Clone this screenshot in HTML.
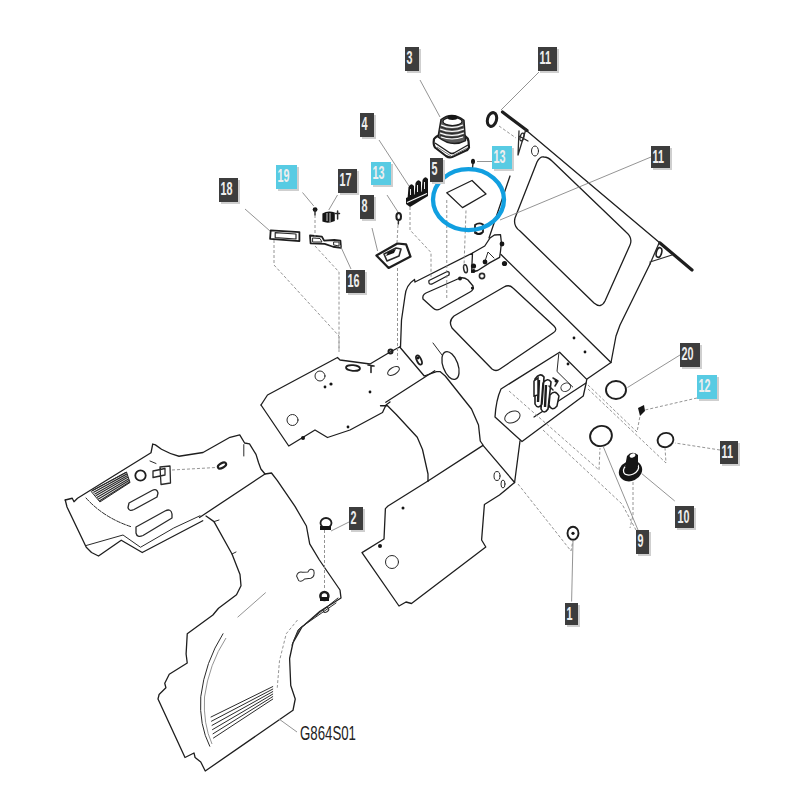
<!DOCTYPE html>
<html><head><meta charset="utf-8">
<style>
html,body{margin:0;padding:0;background:#fff;width:800px;height:800px;overflow:hidden}
svg{display:block}
.o{fill:none;stroke:#1e1e1e;stroke-width:1.3;stroke-linejoin:round;stroke-linecap:round}
.t{fill:none;stroke:#2a2a2a;stroke-width:1.0;stroke-linejoin:round;stroke-linecap:round}
.l{fill:none;stroke:#888;stroke-width:0.9}
.d{fill:none;stroke:#888;stroke-width:0.9;stroke-dasharray:3 2}
.k{fill:#151515;stroke:none}
.lab{font-family:"Liberation Sans",sans-serif;font-size:36px;font-weight:bold;fill:#eeeeee}
</style></head><body>
<svg width="800" height="800" viewBox="0 0 800 800">
<!-- ===== Dashboard frame panel ===== -->
<g>
  <path class="o" d="M527,131 L660,243" />
  <path class="o" style="stroke-width:3.2" d="M502.5,112 L527,130.5" />
  <path class="o" style="stroke-width:3.2" d="M660,243 L692,270" />
  <path class="t" style="stroke-width:1.3" d="M526,129 L518,155 L519,131 M519,136 L528,141" /><ellipse class="t" style="stroke-width:1.3" cx="522" cy="137" rx="1.8" ry="4" transform="rotate(15 522 137)"/>
  <path class="t" style="stroke-width:1.3" d="M659.5,242 L650,264 M650,262 L672,255" /><ellipse class="o" style="stroke-width:1.6" cx="659" cy="252.5" rx="2.6" ry="5" transform="rotate(15 659 252.5)"/>
  <ellipse class="o" style="stroke-width:3" cx="492" cy="119.5" rx="4.5" ry="7" transform="rotate(15 492 119.5)"/>
  <ellipse class="t" cx="535" cy="151" rx="3.5" ry="5" />
  <path class="o" d="M544,157 Q540,156 537,162 L515,218 Q513,226 520,231 L594,303 Q601,309 605,301 L630,245 Q633,238 626,232 L552,161 Q548,157 544,157 Z" />
  <path class="o" d="M650,264 L620,325 L616,336 L611,362.5" />
  <path class="o" d="M510,176 L489,238" />
  <path class="o" d="M501,254.5 L611,362.5 L587,379" />
</g>
<!-- ===== Upper floor plate ===== -->
<g>
  <path class="o" d="M401.5,320 L400.5,347 M414.5,279.5 Q406,285 405,296 L401.5,320 M414.5,279.5 L415,282 L472.5,253 L484.75,246 L490,238 L494.4,235 L500.5,234.6 L501.4,242.5 L500.5,251.25 L499.6,257.4 L490,262.6 L477.75,270.5 L471.6,272.25 L472.5,253" />
  <path class="t" d="M484.75,262 L488,252 L494,258" />
  <circle class="k" cx="473.5" cy="266" r="2.6"/><circle class="k" cx="473.5" cy="271" r="2"/><circle class="k" cx="485" cy="262" r="2.4"/><circle class="k" cx="502" cy="244" r="2.4"/><circle class="k" cx="504.5" cy="263.5" r="2.6"/><circle class="k" cx="460" cy="278.4" r="2"/><circle class="k" cx="472.5" cy="288" r="1.6"/>
  <circle class="t" style="stroke-width:1.6" cx="482" cy="276" r="2.6"/>
  <ellipse class="t" style="stroke-width:1.5" cx="465.5" cy="268.75" rx="1.8" ry="4" transform="rotate(-10 465.5 268.75)"/>
  <path class="o" d="M429,280.5 L446.75,271.75 Q450,271 449,275 L432,284 Q428,285 429,280.5 Z" />
  <path class="o" d="M426,293 L460,278 Q464,277 468,280 L473,286 Q474,290 470,292 L440,309 Q436,311 433,308 L423,299 Q422,295 426,293 Z" />
  <path class="o" d="M454,316 L504,287 Q509,284 513,288 L554,326 Q558,330 553,333 L500,369 Q496,372 492,369 L452,328 Q448,321 454,316 Z" />
  <ellipse class="o" cx="450.5" cy="365.5" rx="7.5" ry="14.5" transform="rotate(-20 450.5 365.5)"/>
  <path class="t" d="M433,343 L442,355" />
  <ellipse class="o" style="stroke-width:1.8" cx="419" cy="360" rx="2.2" ry="5" transform="rotate(-25 419 360)"/>
  <path class="o" d="M399.75,347 L424.25,376 L436.5,371.6 L440,371.6 L445.25,376 L471.5,409 L478.5,425 L480.25,441 L483,445" />
  <circle class="o" style="stroke-width:2" cx="390.5" cy="351.5" r="2"/><circle class="k" cx="418" cy="358" r="1.4"/><circle class="k" cx="574" cy="338" r="1.4"/><circle class="k" cx="568" cy="364" r="1.4"/><circle class="k" cx="585" cy="352" r="1.4"/>
</g>
<!-- ===== Console box ===== -->
<g>
  <path class="o" d="M501,389 L559.6,352.25 L586.75,379.4 L586,383.75 L583.25,396 L522,441.5 L495,417 Q496,400 501,389 Z" />
  <path class="o" d="M534,417 L586,383" />
  <path class="t" d="M558.75,354 L557,371.5 L572.75,387" />
  <ellipse class="t" cx="512.4" cy="417" rx="8" ry="5.5" transform="rotate(-25 512.4 417)"/>
  <ellipse class="t" cx="565.75" cy="387.25" rx="5" ry="4" transform="rotate(-25 565.75 387.25)"/>
  <path fill="#fff" stroke="#1e1e1e" stroke-width="1.6" d="M535,379 Q540,372 544,377 L542,404 Q538,410 535,404 Z M543,383 Q548,377 551,382 L548,409 Q544,415 541,409 Z" />
  <path fill="none" stroke="#1e1e1e" stroke-width="2.4" d="M539,380 L538,402 M546,385 L545,407" />
  <path fill="#fff" stroke="#1e1e1e" stroke-width="1.5" d="M550,395 Q555,389 559,396 L557,406 Q552,412 549,405 Z M534,381 L538,378 L538,395 L534,396 Z" />
  <path class="t" style="stroke-width:1.5" d="M553,378 L558,381 L555,386 M549,386 L553,390" />
  <circle class="k" cx="556" cy="381" r="1.5"/>
  
</g>
<!-- ===== Left floor plate ===== -->
<g>
  <path class="o" d="M261,405 L267.5,395 L337.5,357.5 L340,360 L370,364 L391,351.5 L399.75,347" />
  <path class="o" d="M261,405 L288.75,446 L315,430 L327.5,437.5 L350,430 L382.5,412.5 L386,405 L390,402" />
  <path class="o" d="M385.75,402.25 L434.75,370.75" />
  <circle class="t" cx="320" cy="376" r="5"/>
  <circle class="t" cx="292.5" cy="420" r="5.5"/>
  <ellipse class="o" style="stroke-width:1.8" cx="353" cy="368" rx="7" ry="2.8" transform="rotate(5 353 368)"/><path class="t" style="stroke-width:1.6" d="M368,365 L374,366 M371,365.5 L371,372.5"/>
  <ellipse class="t" cx="393.5" cy="371" rx="6.5" ry="3.5" transform="rotate(-30 393.5 371)"/>
  <circle class="k" cx="331" cy="384" r="1.6"/><circle class="k" cx="325" cy="387" r="1.4"/><circle class="k" cx="303" cy="438" r="2"/><circle class="k" cx="348" cy="427" r="1.4"/><circle class="k" cx="370" cy="392" r="1.4"/>
</g>
<!-- ===== Tunnel + lower plate ===== -->
<g>
  <path class="o" d="M380.5,405.75 L387.5,405.75 L396.25,414.5 L417.25,437.25 L422.5,449.5 L428,474 L428,481" />
  <path class="o" d="M428,481 L483,445.4 L514.6,482.5 L520,441" />
  <path class="o" d="M514.6,482.5 L499.5,495 L484.4,504.5 L481.6,540 L485.8,547 L411.5,603.5 L406,602 L399,606 L362,552.6 L384,539 L385.4,508.6 L388,506 L428,481" />
  <circle class="t" cx="392" cy="562" r="6.5"/>
  <circle class="k" cx="403" cy="508" r="1.5"/><circle class="k" cx="380" cy="546" r="2"/>
  <ellipse class="t" cx="497" cy="476" rx="3" ry="4.5"/><ellipse class="t" cx="503" cy="484" rx="2" ry="4"/>
</g>
<!-- ===== Fender (left side) ===== -->
<g>
  <path class="o" d="M65.25,500 L72.25,498.25 L74,501.75 L77.5,498.25 L151,452.75 L152.75,444 L155.4,444.9 L161.5,449.25 Q170,454 179,456.25 L203,452.5 L230,437.3 L239.75,434.9 L244.6,443 L249.5,443.8 L256,454.4 L258.5,462.5 L260.9,469 L265,474 L199.5,517.5" />
  <path class="o" d="M65.25,500 L67,507 L86.25,547.25 L91.5,552.5 L98.5,556 L121.25,540.25 L142.25,552.5 L202.75,520.75" />
  <path class="t" d="M86.25,545.5 L123,535 L140.5,547.25 L173.75,528 L200,515.75" />
  <path class="t" style="stroke-dasharray:4 1.5" d="M86,498 Q104,518 132,527" />
  <path class="t" d="M91.5,491.25 L126.5,472 L130,482.5 L100.25,501.75 Z" />
  <path class="t" style="stroke-width:1.2" d="M92.5,490.5 L126.0,472.5 M93.7,492.2 L126.6,474.1 M94.9,493.9 L127.2,475.7 M96.1,495.6 L127.8,477.3 M97.3,497.3 L128.4,478.9 M98.5,499.0 L129.0,480.5 M99.7,500.7 L129.6,482.1" />
  <path class="t" style="stroke-width:1.3" d="M129,503 L152,490.5 Q157,488 158,493 L157,497 L134,509.5 Q129,512 128,507.5 Z" />
  <path class="t" style="stroke-width:1.3" d="M136,527 L165,511 Q171,508 172,514 L172,518 L143,535.5 Q137,538 136,533 Z" />
  <circle class="o" style="stroke-width:1.8" cx="140.5" cy="475.5" r="5.2"/>
  <path class="t" style="stroke-width:1.3" d="M153,471 L165,468.5 L165,475 L153,477.5 Z M160,467 L170,466 L170.5,483 L161,484.5 Z" />
  <path class="t" d="M150,461 L156,463.5" />
  <ellipse class="o" style="stroke-width:2.2" cx="222" cy="465.5" rx="4.5" ry="2.3" transform="rotate(-30 222 465.5)"/><path class="t" d="M243.8,444.6 L243.8,456"/>
  <path class="d" d="M172,470 L216,467.5" />
</g>
<!-- ===== Lower big panel ===== -->
<g>
  <path class="o" d="M265,474 L271.5,473 L277.2,480.4 L295,506.4 L306.4,526 L309.7,543.8 L319.4,560 L340,590 L341,598 L320,611.25 L302,627 L293,642.75 L289.6,658.5 L290.75,685.5 L295.25,699 L293,710.25 L205.25,771 L200.75,762 L195.1,757.5 L194,753 L185,757.5 L158,699 L159.1,694.5 L165.9,687.75 L164.75,683.25 L169.25,674.25 L187.25,663 L186.1,654 L187.25,633.75 L212.9,615 L218.5,608.25 L236.5,594.75 L241,585.75 L240,574.5 L232,554 L214,521.6 L206,516" />
  <path class="t" d="M338,598 L298,630 L292,645" />
  <path class="t" d="M223,633.75 Q205,662 200.75,696.75 Q199,725 209.75,746.25" />
  <path class="l" d="M226,638 Q209,664 204.5,697 Q203,724 212,744" />
  <path class="d" d="M297.5,620 L286.25,633.75 L279.5,660.75 L277.25,687.75" />
  <path class="t" d="M211.0,717.0 L272.75,686.6 M211.5,721.2 L272.75,689.1 M212.0,725.4 L272.75,691.6 M212.5,729.6 L272.75,694.1 M213.0,733.8 L272.75,696.6 M213.5,738.0 L272.75,699.1" />
  <path class="l" d="M265.75,592.5 L237.6,617.25" />
  <path class="t" d="M214,521.6 L219,520 M232,554 L236,552" />
  <path class="t" transform="rotate(-25 306 575)" d="M297,572 Q300,568 304,571 L309,573 Q313,570 315,574 Q314,580 309,580 L303,578 Q299,580 297,577 Z" />
  <path class="t" d="M336,603 L300,628 L294,640" />
  <ellipse class="t" cx="326" cy="610" rx="3" ry="2" transform="rotate(-30 326 610)"/>
</g>
<!-- ===== Small parts ===== -->
<g>
  <!-- 3 boot -->
  <path fill="#fff" stroke="#1e1e1e" stroke-width="2.2" stroke-linejoin="round" d="M434,139 Q436,136 441,134.5 L465,136 Q468,138 468.5,141 L469,147.5 Q468,150 465,151 L452,157 Q449,158 446,156 L435,147.5 Q433,145 434,139 Z" />
  <path fill="none" stroke="#1e1e1e" stroke-width="1.4" d="M435,143 L450,153 Q452,154 454,153 L468,145" />
  <path fill="none" stroke="#777" stroke-width="1" d="M437,147 L451,156 M453,155.5 L467,148" />
  <path fill="#5a5a5a" stroke="#1e1e1e" stroke-width="1.4" d="M441,119.5 Q452,111 464,120.3 L465.5,140.6 Q452,148 438,137 Z" />
  <path fill="none" stroke="#fff" stroke-width="1.1" d="M441,125 Q452,130 463,125 M440,129 Q452,134 464,129 M440,133 Q452,138 464,133 M441,137 Q452,141 463,137" />
  <path fill="none" stroke="#1e1e1e" stroke-width="0.9" d="M441,127 Q452,132 463,127 M440,131 Q452,136 464,131 M440,135 Q452,140 464,135" />
  <ellipse fill="#fff" stroke="#1e1e1e" stroke-width="1.2" cx="452.5" cy="121.5" rx="9.5" ry="4"/>
  <ellipse class="k" cx="452.5" cy="117.5" rx="5" ry="2.5"/>
  <!-- 4 stubs -->
  <path class="k" d="M406,198 L428,189 L428,196 L410,207 L406,204 Z" />
  <path class="k" d="M407.5,199 L408.5,187 Q411,182 414,186 L414,197 Z M414.5,196 L415.5,183 Q418,178 421,182 L421,194 Z M421.5,193 L422.5,180 Q425,175 428,179 L428,191 Z" />
  <path d="M407,202.5 L427,193.5" stroke="#fff" stroke-width="1.2"/>
  <path d="M410.5,189 L410.5,195 M417.5,185 L417.5,192 M424.5,182 L424.5,189" stroke="#fff" stroke-width="0.9"/>
  <!-- 5 plate -->
  <path class="o" d="M446.75,192.75 L472,180.5 L486,194 L462.5,207.6 Z" />
  <ellipse class="k" cx="473" cy="161.5" rx="2" ry="2.8"/><path class="t" style="stroke-width:1.4" d="M473,163 L472.5,168"/>
  <!-- 13 left bolt -->
  <ellipse class="o" style="stroke-width:2" cx="398.7" cy="216.5" rx="2.3" ry="3.6"/><path class="t" style="stroke-width:1.5" d="M398.5,220 L398.3,224"/>
  <!-- 8 latch -->
  <path class="o" style="stroke-width:2.2" d="M376.4,255.5 L397.4,243.5 L406.1,244.4 L410.5,256.6 L388.6,268 Z" />
  <path class="t" style="stroke-width:1.6" d="M384,254 L396,248 L401,249 L399,256 L387,261 Z" />
  <path class="k" d="M388,252 L396,249 L394,253 L386,256 Z" />
  <!-- 18 bar -->
  <path class="o" style="stroke-width:1.8" d="M270.7,230.4 L299.4,232.1 L299.4,241.1 L270.1,238.9 Z" />
  <path class="t" style="stroke-width:1.2" d="M275.2,232.6 L296,234 L296,239 L275.2,237.6 Z" />
  <!-- 16 bracket -->
  <path class="o" style="stroke-width:1.8" d="M310,235.5 L321.9,236.6 L324.1,240.6 L334.25,240 L340.4,240.6 L341,247.9 L333.1,246.75 L324.7,243.9 L310.6,243.4 Z" />
  <path class="t" d="M313,238 L320,238.5 L322,242 L313,242 Z M334,242 L339,242 L339,246 L334,245 Z" />
  <!-- 17 -->
  <path class="k" d="M322.4,213.5 Q328,210 334.8,212.5 L334.8,221 Q328,224 322.4,221.5 Z" />
  <path d="M327,213 L327,221 M330,213 L330,222" stroke="#fff" stroke-width="0.8"/>
  <path class="t" style="stroke-width:1.5" d="M337.6,211 L337.6,219 M335.5,213.5 L339.5,213.5" />
  <!-- 19 -->
  <circle class="k" cx="315.1" cy="209.6" r="2.4"/>
  <path class="t" style="stroke-width:1.4" d="M315,210 L315,215" />
  <!-- 20 ring -->
  <ellipse class="o" style="stroke-width:1.9" cx="616" cy="390" rx="10" ry="9"/>
  <!-- 12 bolt -->
  <path class="k" d="M638,408 L644,405 L645,411 L640,416 Z" />
  <!-- 11 ring -->
  <ellipse class="o" style="stroke-width:1.9" cx="665.5" cy="440" rx="8" ry="7" transform="rotate(-20 665.5 440)"/>
  <!-- 9 ring -->
  <ellipse class="o" style="stroke-width:1.9" cx="601" cy="436" rx="11" ry="10" transform="rotate(-20 601 436)"/>
  <!-- 10 knob -->
  <ellipse class="k" cx="630.5" cy="471" rx="12" ry="10" transform="rotate(-25 630.5 471)"/>
  <ellipse cx="631" cy="469" rx="8" ry="5.5" fill="none" stroke="#fff" stroke-width="1.2" transform="rotate(-25 631 469)"/>
  <path class="k" d="M625,467 L627,456 Q632,450 638,455 L638,466 Q632,471 625,467 Z" />
  <ellipse cx="632.5" cy="455.5" rx="3" ry="2" fill="#fff" transform="rotate(-25 632.5 455.5)"/>
  <!-- 1 -->
  <ellipse class="o" style="stroke-width:1.9" cx="573" cy="533.3" rx="5.5" ry="6.5"/>
  <circle class="k" cx="573" cy="533.3" r="1.6"/>
  <!-- 2 -->
  <ellipse class="o" style="stroke-width:1.8" cx="326" cy="523" rx="5.5" ry="5"/>
  <rect class="k" x="320" y="526" width="11" height="4"/>
  <ellipse class="o" style="stroke-width:2.6" cx="324.4" cy="596" rx="4" ry="4"/><rect class="k" x="320" y="597" width="9" height="4"/>
</g>
<!-- ===== leaders ===== -->
<g>
  <path class="l" d="M420,80 L440,117 M539,72 L501,110 M379,140 L409,186 M387,195 L398,212 M372,228 L377.6,251 M302.5,192.5 L313.75,206 M337.5,195 L328.75,210 M245,209 L270,231 M340,245 L351,269 M492,161.5 L477,161.5 M651,157 L500,220 M680,355 L627.5,387.5 M674.75,501 L641.75,473.6 M603,446 L638,530 M573,541 L571.6,601.5 M349,522 L331,531 M297,732 L279,719" />
  <path class="d" d="M697,398 L645,410 M720,450 L675,443 M274,240 L274,265 L339,336 L339,352 M315,246 L339,272 L339,350 M315,215 L315,238 M397.5,268 L397.5,360 M398,225 L397,243 M410,207 L410,230 L431,252.5 L431,277 M446.75,200 L446.75,298 M466,210.5 L464,266.5 M499,126 L516,138 M324.5,530 L324.5,590" />
  <path class="d" d="M509,391 L599,470 L600,448 M543,430 L622,504 L636,530 M588,389 L666,463 L665,448 M588,385 L637,432 L640,416 M518,484 L571,551 L573,540 M633,482 L633,515 L630,528" />
</g>
<path class="o" style="stroke-width:1.8" d="M475,233 L475,225 Q479,222 483,224.5 L483,232 Q479,235 475,233 Z" />
<path class="k" d="M476,231.5 Q479,234.5 482.5,232 L482.5,234 Q479,236 476,234 Z" />
<!-- ===== blue highlight ===== -->
<ellipse cx="468.5" cy="199.6" rx="35.5" ry="30.5" fill="none" stroke="#119fe0" stroke-width="4.3"/>
<!-- ===== labels ===== -->
<g>
  <g fill="#cfcfcf">
  <rect x="407" y="49" width="14" height="24"/><rect x="540" y="49" width="19" height="24"/><rect x="362" y="115" width="14" height="24"/><rect x="432" y="160" width="13" height="24"/><rect x="653" y="148" width="19" height="22"/><rect x="221" y="180" width="19" height="24"/><rect x="340" y="171" width="19" height="24"/><rect x="362" y="197" width="14" height="24"/><rect x="348" y="272" width="19" height="23"/><rect x="682" y="345" width="20" height="24"/><rect x="722" y="443" width="18" height="23"/><rect x="351" y="509" width="14" height="23"/><rect x="677" y="508" width="19" height="22"/><rect x="638" y="532" width="13" height="24"/><rect x="567" y="605" width="13" height="22"/>
  <rect x="278" y="167" width="21" height="24"/><rect x="373" y="164" width="20" height="23"/><rect x="494" y="148" width="20" height="23"/><rect x="699" y="377" width="20" height="24"/>
  </g>
  <g fill="#3d3d3d">
  <rect x="405" y="47" width="14" height="24"/><rect x="538" y="47" width="19" height="24"/><rect x="360" y="113" width="14" height="24"/><rect x="430" y="158" width="13" height="24"/><rect x="651" y="146" width="19" height="22"/><rect x="219" y="178" width="19" height="24"/><rect x="338" y="169" width="19" height="24"/><rect x="360" y="195" width="14" height="24"/><rect x="346" y="270" width="19" height="23"/><rect x="680" y="343" width="20" height="24"/><rect x="720" y="441" width="18" height="23"/><rect x="349" y="507" width="14" height="23"/><rect x="675" y="506" width="19" height="22"/><rect x="636" y="530" width="13" height="24"/><rect x="565" y="603" width="13" height="22"/>
  </g>
  <g fill="#58cbe3">
  <rect x="276" y="165" width="21" height="24"/><rect x="371" y="162" width="20" height="23"/><rect x="492" y="146" width="20" height="23"/><rect x="697" y="375" width="20" height="24"/>
  </g>
  <g class="lab">
  <text transform="translate(406.5,64) scale(0.3,0.5)">3</text>
  <text transform="translate(539.5,64) scale(0.3,0.5)">11</text>
  <text transform="translate(361.5,130) scale(0.3,0.5)">4</text>
  <text transform="translate(431.5,175) scale(0.3,0.5)">5</text>
  <text transform="translate(652.5,163) scale(0.3,0.5)">11</text>
  <text transform="translate(220.5,195) scale(0.3,0.5)">18</text>
  <text transform="translate(339.5,186) scale(0.3,0.5)">17</text>
  <text transform="translate(361.5,212) scale(0.3,0.5)">8</text>
  <text transform="translate(347.5,287) scale(0.3,0.5)">16</text>
  <text transform="translate(681.5,360) scale(0.3,0.5)">20</text>
  <text transform="translate(721.5,458) scale(0.3,0.5)">11</text>
  <text transform="translate(350.5,524) scale(0.3,0.5)">2</text>
  <text transform="translate(677.5,523) scale(0.3,0.5)">10</text>
  <text transform="translate(637.5,547) scale(0.3,0.5)">9</text>
  <text transform="translate(566.5,620) scale(0.3,0.5)">1</text>
  <text transform="translate(277.5,182) scale(0.3,0.5)">19</text>
  <text transform="translate(372.5,179) scale(0.3,0.5)">13</text>
  <text transform="translate(493.5,163) scale(0.3,0.5)">13</text>
  <text transform="translate(698.5,392) scale(0.3,0.5)">12</text>
  </g>
  <text transform="translate(300,739.5) scale(0.68,1)" style="font-family:'Liberation Sans',sans-serif;font-size:19.5px;fill:#222">G864S01</text>
</g>
</svg>
</body></html>
